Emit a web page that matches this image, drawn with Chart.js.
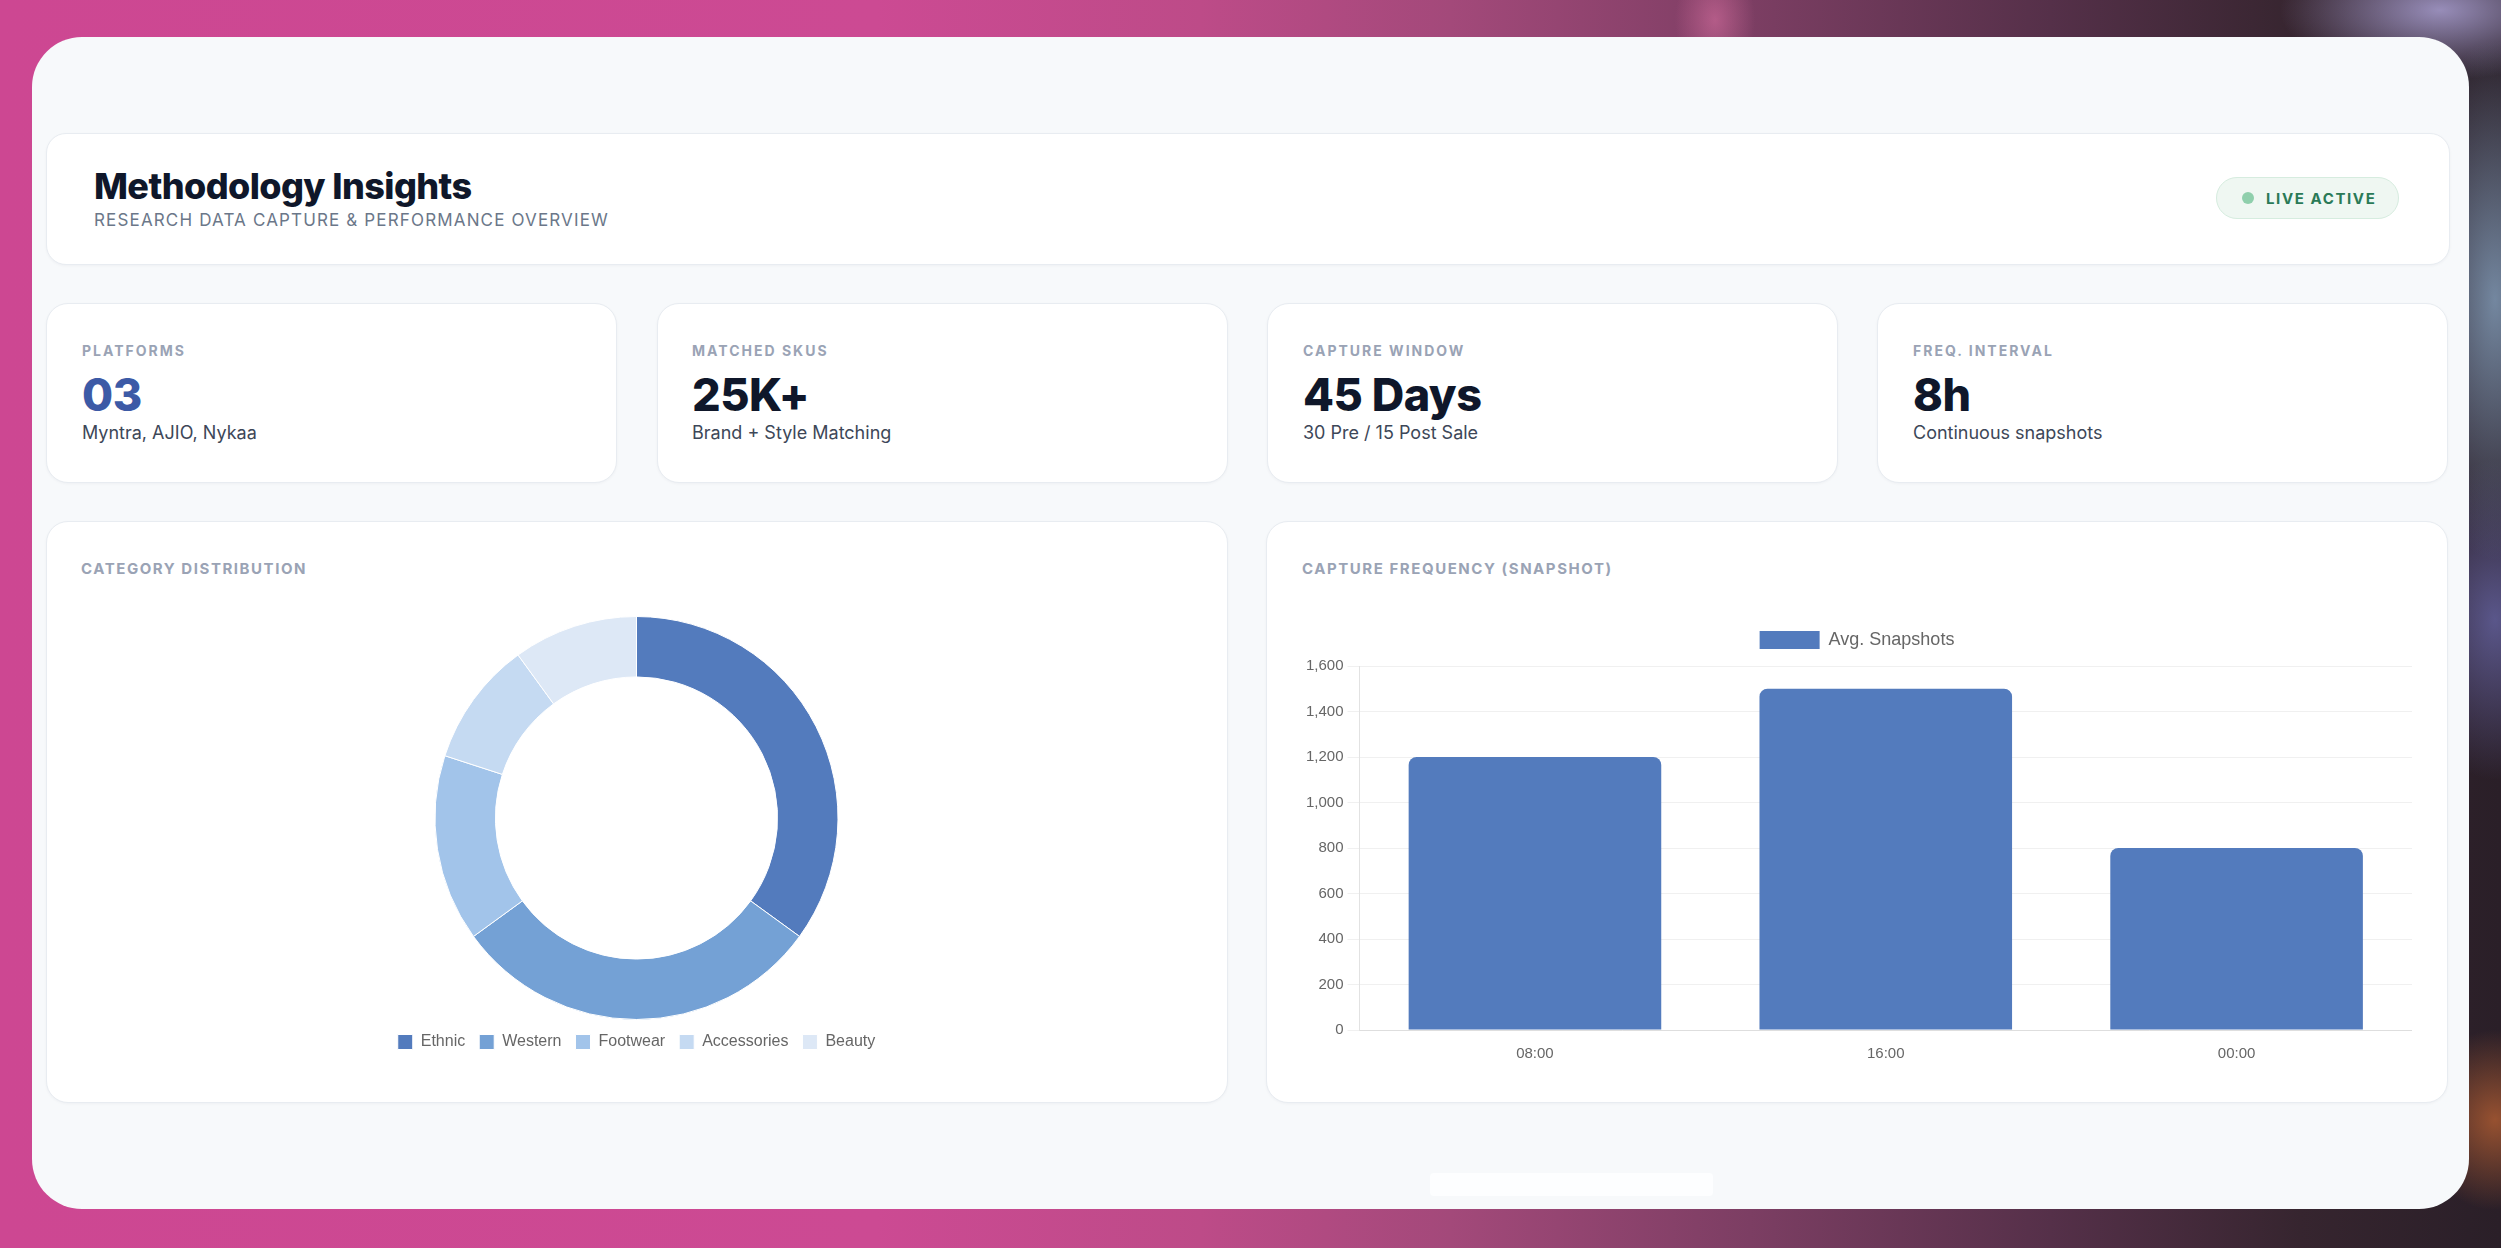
<!DOCTYPE html>
<html>
<head>
<meta charset="utf-8">
<script src="https://cdn.jsdelivr.net/npm/chart.js@4.4.1/dist/chart.umd.min.js"></script>
<style>
  html, body { margin:0; padding:0; }
  body {
    width:2501px; height:1248px; overflow:hidden; position:relative;
    font-family: Inter, "Noto Sans", sans-serif;
    background:
      radial-gradient(ellipse 90px 260px at 2495px 300px, rgba(140,170,200,0.75), rgba(140,170,200,0) 100%),
      radial-gradient(ellipse 160px 70px at 2440px 10px, rgba(170,160,210,0.85), rgba(170,160,210,0) 100%),
      radial-gradient(ellipse 40px 60px at 1715px 20px, rgba(230,120,170,0.5), rgba(230,120,170,0) 100%),
      radial-gradient(ellipse 80px 90px at 2495px 1120px, rgba(170,90,50,0.85), rgba(170,90,50,0) 100%),
      radial-gradient(ellipse 90px 160px at 2495px 620px, rgba(110,110,180,0.7), rgba(110,110,180,0) 100%),
      linear-gradient(90deg, #cd4792 0%, #cc4a93 35%, #bd4b88 48%, #a3497a 58%, #7c3e63 70%, #553049 82%, #36252f 92%, #2a1f28 100%);
  }
  .panel { position:absolute; left:32px; top:37px; width:2437px; height:1172px; background:#f7f9fb; border-radius:50px; }
  .card { position:absolute; background:#fff; border:1px solid #e8ecf1; box-sizing:border-box; border-radius:22px; box-shadow:0 1px 3px rgba(15,23,42,0.04); }
  .abs { position:absolute; white-space:nowrap; line-height:1; }
  .title { font-size:36px; font-weight:800; color:#0f172a; letter-spacing:-0.6px; }
  .subtitle { font-size:17px; font-weight:400; color:#6b7789; letter-spacing:1.15px; }
  .badge { position:absolute; left:2216px; top:177px; width:183px; height:42px; box-sizing:border-box; border:1px solid #d6ecdf; background:#eff7f2; border-radius:21px; }
  .dot { position:absolute; left:2242px; top:192px; width:12px; height:12px; border-radius:50%; background:#8fcfac; }
  .badgetxt { font-size:15px; font-weight:700; color:#2a7a57; letter-spacing:1.6px; }
  .klabel { font-size:14px; font-weight:700; color:#9aa3b5; letter-spacing:2px; }
  .kvalue { font-size:45px; font-weight:800; color:#0f172a; letter-spacing:-0.5px; }
  .ksub { font-size:18px; font-weight:400; color:#3d4758; }
  .clabel { font-size:15px; font-weight:700; color:#9aa3b5; letter-spacing:1.55px; }
  .chartbox { position:absolute; }
  .homebar { position:absolute; left:1430px; top:1173px; width:283px; height:23px; background:#fdfeff; border-radius:4px; }
</style>
</head>
<body>
<div class="panel"></div>

<div class="card" style="left:46px; top:133px; width:2404px; height:132px; border-radius:20px;"></div>
<div class="abs title" style="left:94px; top:168px;">Methodology Insights</div>
<div class="abs subtitle" style="left:94px; top:212px;">RESEARCH DATA CAPTURE &amp; PERFORMANCE OVERVIEW</div>
<div class="badge"></div>
<div class="dot"></div>
<div class="abs badgetxt" style="left:2266px; top:191px;">LIVE ACTIVE</div>

<div class="card" style="left:46px; top:303px; width:571px; height:180px;"></div>
<div class="card" style="left:657px; top:303px; width:571px; height:180px;"></div>
<div class="card" style="left:1267px; top:303px; width:571px; height:180px;"></div>
<div class="card" style="left:1877px; top:303px; width:571px; height:180px;"></div>

<div class="abs klabel" style="left:82px; top:344px;">PLATFORMS</div>
<div class="abs kvalue" style="left:82px; top:372px; color:#3c5aa6;">03</div>
<div class="abs ksub" style="left:82px; top:424px;">Myntra, AJIO, Nykaa</div>

<div class="abs klabel" style="left:692px; top:344px;">MATCHED SKUS</div>
<div class="abs kvalue" style="left:692px; top:372px;">25K+</div>
<div class="abs ksub" style="left:692px; top:424px;">Brand + Style Matching</div>

<div class="abs klabel" style="left:1303px; top:344px;">CAPTURE WINDOW</div>
<div class="abs kvalue" style="left:1303px; top:372px;">45 Days</div>
<div class="abs ksub" style="left:1303px; top:424px;">30 Pre / 15 Post Sale</div>

<div class="abs klabel" style="left:1913px; top:344px;">FREQ. INTERVAL</div>
<div class="abs kvalue" style="left:1913px; top:372px;">8h</div>
<div class="abs ksub" style="left:1913px; top:424px;">Continuous snapshots</div>

<div class="card" style="left:46px; top:521px; width:1182px; height:582px;"></div>
<div class="card" style="left:1266px; top:521px; width:1182px; height:582px;"></div>
<div class="abs clabel" style="left:81px; top:561px;">CATEGORY DISTRIBUTION</div>
<div class="abs clabel" style="left:1302px; top:561px;">CAPTURE FREQUENCY (SNAPSHOT)</div>

<div class="chartbox" style="left:81px; top:616px; width:1111px; height:444px;"><canvas id="donut"></canvas></div>
<div class="chartbox" style="left:1302px; top:621px; width:1110px; height:457px;"><canvas id="bars"></canvas></div>

<div class="homebar"></div>

<script>
const categoryLabels = ['Ethnic', 'Western', 'Footwear', 'Accessories', 'Beauty'];
const categoryShares = [35, 30, 15, 10, 10];
const categoryColors = ['#537bbd', '#74a1d5', '#a2c4ea', '#c5daf2', '#dde8f6'];

const snapshotLabels = ['08:00', '16:00', '00:00'];
const avgSnapshots = [1200, 1500, 800];
const yMin = 0, yMax = 1600, yStep = 200;

const chartFont = "'Liberation Sans', Arial, Helvetica, sans-serif";
Chart.defaults.font.family = chartFont;
Chart.defaults.color = '#666';
Chart.defaults.animation = false;

const legendGap = {
  id: 'legendGap',
  beforeInit(chart, args, opts) {
    const fit = chart.legend.fit;
    chart.legend.fit = function () { fit.bind(chart.legend)(); this.height += (opts.extra || 0); };
  }
};

new Chart(document.getElementById('donut'), {
  type: 'doughnut',
  data: {
    labels: categoryLabels,
    datasets: [{ data: categoryShares, backgroundColor: categoryColors, borderWidth: 1, borderColor: '#ffffff', hoverOffset: 0 }]
  },
  options: {
    responsive: true, maintainAspectRatio: false,
    cutout: '70%',
    layout: { padding: 0 },
    plugins: {
      legend: { position: 'bottom', labels: { boxWidth: 15, boxHeight: 15, padding: 14, font: { size: 16 }, color: '#666' } },
      tooltip: { enabled: false }
    }
  }
});

new Chart(document.getElementById('bars'), {
  type: 'bar',
  data: {
    labels: snapshotLabels,
    datasets: [{ label: 'Avg. Snapshots', data: avgSnapshots, backgroundColor: '#537bbd', borderRadius: 8, borderSkipped: 'start' }]
  },
  plugins: [legendGap],
  options: {
    responsive: true, maintainAspectRatio: false,
    layout: { padding: 0 },
    plugins: {
      legendGap: { extra: 7 },
      legend: { position: 'top', labels: { boxWidth: 60, boxHeight: 18, padding: 10, font: { size: 18 }, color: '#666' } },
      tooltip: { enabled: false }
    },
    scales: {
      x: {
        grid: { display: false, drawTicks: false },
        border: { color: '#dedede' },
        ticks: { font: { size: 15 }, color: '#666', padding: 15 }
      },
      y: {
        min: yMin, max: yMax,
        grid: { color: '#f0f0f0', tickLength: 12 },
        border: { color: '#e2e2e2' },
        ticks: { stepSize: yStep, font: { size: 15 }, color: '#666', padding: 4 }
      }
    }
  }
});
</script>
</body>
</html>
